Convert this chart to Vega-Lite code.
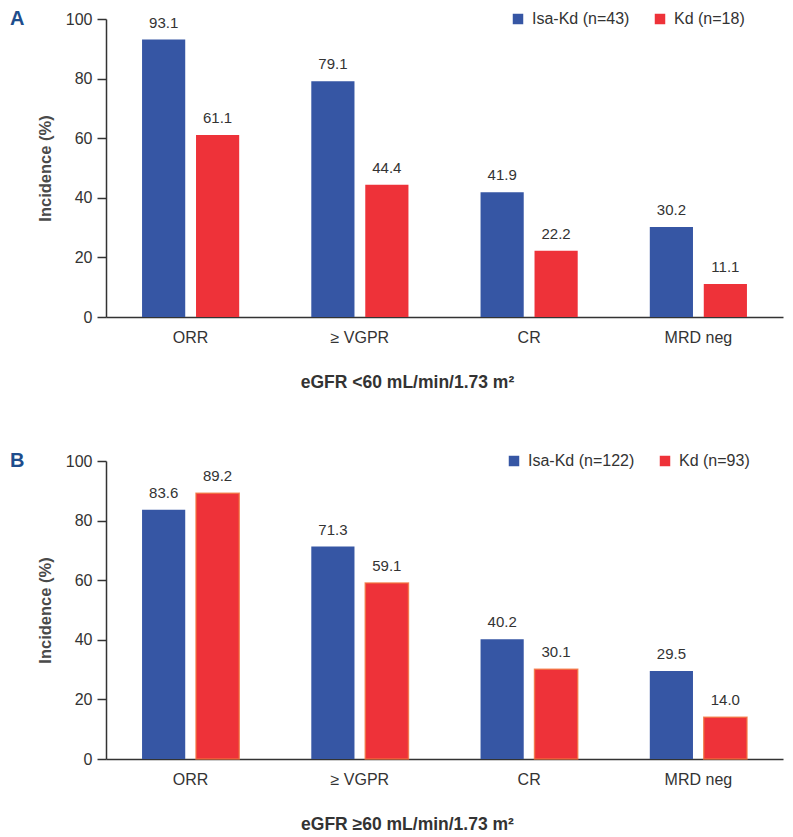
{
  "$schema": "https://vega.github.io/schema/vega-lite/v6.json",
  "padding": {"left": 10, "top": 9, "right": 5, "bottom": 5},
  "background": "white",
  "config": {
    "font": "Liberation Sans",
    "view": {"stroke": null},
    "axis": {"labelFont": "Liberation Sans", "labelFontSize": 16, "labelColor": "#333333", "titleColor": "#333333", "domainColor": "#333333", "domainWidth": 1.5, "tickColor": "#333333", "tickWidth": 1.5, "grid": false},
    "axisX": {"ticks": false, "labelAngle": 0, "labelPadding": 12, "titleFontSize": 17.5, "titleFontWeight": "bold", "titlePadding": 28},
    "axisY": {"tickSize": 9, "labelPadding": 5, "titleFontSize": 16.5, "titleFontWeight": "bold", "titleColor": "#4a4a4a", "titlePadding": 12},
    "legend": {"orient": "none", "direction": "horizontal", "title": null, "symbolType": "square", "symbolSize": 110, "symbolStrokeWidth": 0, "labelFontSize": 16, "labelColor": "#333333", "columnPadding": 22, "labelOffset": 6},
    "title": {"fontSize": 20, "fontWeight": "bold", "color": "#1E4D8C", "anchor": "start", "frame": "group"}
  },
  "spacing": 60,
  "resolve": {"scale": {"color": "independent", "xOffset": "independent"}},
  "vconcat": [
    {
      "width": 677,
      "height": 298,
      "title": {"text": "A", "dx": -96, "offset": -18},
      "data": {"values": [
        {"measure": "ORR", "group": "Isa-Kd (n=43)", "value": 93.1},
        {"measure": "ORR", "group": "Kd (n=18)", "value": 61.1},
        {"measure": "≥ VGPR", "group": "Isa-Kd (n=43)", "value": 79.1},
        {"measure": "≥ VGPR", "group": "Kd (n=18)", "value": 44.4},
        {"measure": "CR", "group": "Isa-Kd (n=43)", "value": 41.9},
        {"measure": "CR", "group": "Kd (n=18)", "value": 22.2},
        {"measure": "MRD neg", "group": "Isa-Kd (n=43)", "value": 30.2},
        {"measure": "MRD neg", "group": "Kd (n=18)", "value": 11.1}
      ]},
      "encoding": {
        "x": {"field": "measure", "type": "nominal", "sort": ["ORR", "≥ VGPR", "CR", "MRD neg"], "scale": {"paddingInner": 0.426, "paddingOuter": 0.213}, "axis": {"title": "eGFR <60 mL/min/1.73 m²", "titleX": 301}},
        "xOffset": {"field": "group", "type": "nominal", "scale": {"domain": ["Isa-Kd (n=43)", "Kd (n=18)"], "paddingInner": 0.2}},
        "y": {"field": "value", "type": "quantitative", "scale": {"domain": [0, 100]}, "axis": {"title": "Incidence (%)", "values": [0, 20, 40, 60, 80, 100]}}
      },
      "layer": [
        {"mark": {"type": "bar"}, "encoding": {"color": {"field": "group", "type": "nominal", "scale": {"domain": ["Isa-Kd (n=43)", "Kd (n=18)"], "range": ["#3656A4", "#EE3239"]}, "legend": {"legendX": 404, "legendY": -8}}}},
        {"mark": {"type": "text", "baseline": "bottom", "dy": -9, "fontSize": 15, "color": "#333333"}, "encoding": {"text": {"field": "value", "type": "quantitative", "format": ".1f"}}}
      ]
    },
    {
      "width": 677,
      "height": 298,
      "title": {"text": "B", "dx": -96, "offset": -18},
      "data": {"values": [
        {"measure": "ORR", "group": "Isa-Kd (n=122)", "value": 83.6},
        {"measure": "ORR", "group": "Kd (n=93)", "value": 89.2},
        {"measure": "≥ VGPR", "group": "Isa-Kd (n=122)", "value": 71.3},
        {"measure": "≥ VGPR", "group": "Kd (n=93)", "value": 59.1},
        {"measure": "CR", "group": "Isa-Kd (n=122)", "value": 40.2},
        {"measure": "CR", "group": "Kd (n=93)", "value": 30.1},
        {"measure": "MRD neg", "group": "Isa-Kd (n=122)", "value": 29.5},
        {"measure": "MRD neg", "group": "Kd (n=93)", "value": 14.0}
      ]},
      "encoding": {
        "x": {"field": "measure", "type": "nominal", "sort": ["ORR", "≥ VGPR", "CR", "MRD neg"], "scale": {"paddingInner": 0.426, "paddingOuter": 0.213}, "axis": {"title": "eGFR ≥60 mL/min/1.73 m²", "titleX": 301}},
        "xOffset": {"field": "group", "type": "nominal", "scale": {"domain": ["Isa-Kd (n=122)", "Kd (n=93)"], "paddingInner": 0.2}},
        "y": {"field": "value", "type": "quantitative", "scale": {"domain": [0, 100]}, "axis": {"title": "Incidence (%)", "values": [0, 20, 40, 60, 80, 100]}}
      },
      "layer": [
        {"mark": {"type": "bar", "strokeWidth": 1.5, "strokeOpacity": 0.8}, "encoding": {
          "color": {"field": "group", "type": "nominal", "scale": {"domain": ["Isa-Kd (n=122)", "Kd (n=93)"], "range": ["#3656A4", "#EE3239"]}, "legend": {"legendX": 400, "legendY": -8}},
          "stroke": {"condition": {"test": "datum.group === 'Kd (n=93)'", "value": "#F3703C"}, "value": null}
        }},
        {"mark": {"type": "text", "baseline": "bottom", "dy": -9, "fontSize": 15, "color": "#333333"}, "encoding": {"text": {"field": "value", "type": "quantitative", "format": ".1f"}}}
      ]
    }
  ]
}
